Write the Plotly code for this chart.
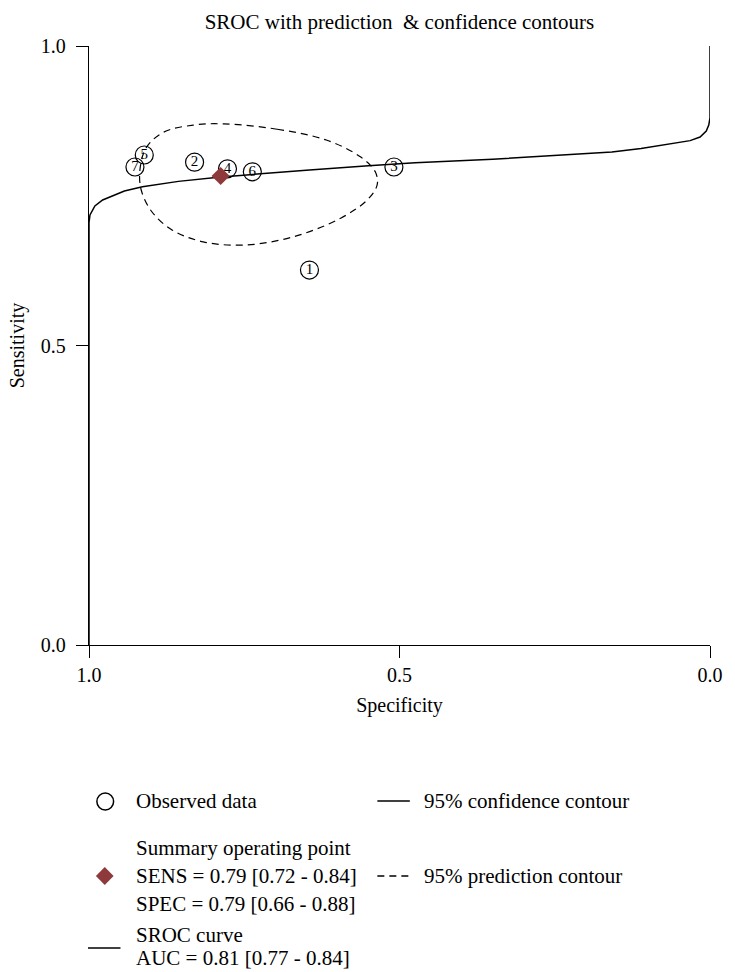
import plotly.graph_objects as go

# ---------------- data ----------------
study_ids = ["1", "2", "3", "4", "5", "6", "7"]
study_spec = [0.645, 0.830, 0.509, 0.777, 0.911, 0.737, 0.926]
study_sens = [0.626, 0.806, 0.798, 0.795, 0.818, 0.790, 0.798]

summary_spec = [0.788]
summary_sens = [0.783]

sroc_spec = [1.0, 1.0, 0.9984, 0.9905, 0.978, 0.962, 0.943, 0.914, 0.856, 0.792,
             0.700, 0.645, 0.550, 0.475, 0.350, 0.250, 0.158, 0.111, 0.052,
             0.032, 0.016, 0.006, 0.002, 0.0, 0.0]
sroc_sens = [0.0, 0.705, 0.718, 0.733, 0.743, 0.750, 0.758, 0.765, 0.774, 0.781,
             0.789, 0.793, 0.800, 0.805, 0.811, 0.817, 0.823, 0.829, 0.838,
             0.842, 0.848, 0.858, 0.868, 0.880, 1.0]

pred_spec = [0.783, 0.697, 0.618, 0.563, 0.539, 0.536, 0.552, 0.594, 0.666, 0.745,
             0.816, 0.868, 0.900, 0.916, 0.918, 0.908, 0.880, 0.832, 0.783]
pred_sens = [0.870, 0.861, 0.843, 0.815, 0.790, 0.768, 0.743, 0.713, 0.683, 0.668,
             0.673, 0.694, 0.725, 0.760, 0.793, 0.830, 0.856, 0.868, 0.870]

x_ticks = [1.0, 0.5, 0.0]
x_ticktext = ["1.0", "0.5", "0.0"]
y_ticks = [0.0, 0.5, 1.0]
y_ticktext = ["0.0", "0.5", "1.0"]

title_text = "SROC with prediction  & confidence contours"
legend_obs = "Observed data"
legend_summary = ["Summary operating point", "SENS = 0.79 [0.72 - 0.84]", "SPEC = 0.79 [0.66 - 0.88]"]
legend_sroc = ["SROC curve", "AUC = 0.81 [0.77 - 0.84]"]
legend_conf = "95% confidence contour"
legend_pred = "95% prediction contour"

# ---------------- figure ----------------
FONT = "Liberation Serif"
DIAMOND = "#8E3A3D"
W, H = 735, 972
L, R, T, B = 89, 720, 46, 645
DASH = "7px,5px"

def px(x):
    return (x - L) / (R - L)

def py(y):
    return (B - y) / (B - T)

fig = go.Figure()

fig.add_trace(go.Scatter(x=sroc_spec, y=sroc_sens, mode="lines",
                         line=dict(color="black", width=1.5), hoverinfo="skip"))
fig.add_trace(go.Scatter(x=pred_spec, y=pred_sens, mode="lines",
                         line=dict(color="black", width=1.2, dash=DASH, shape="spline", smoothing=1.0),
                         hoverinfo="skip"))
fig.add_trace(go.Scatter(x=study_spec, y=study_sens, mode="markers+text", text=study_ids,
                         textposition="middle center",
                         textfont=dict(family=FONT, size=15, color="black"),
                         marker=dict(symbol="circle-open", size=18, color="black",
                                     line=dict(color="black", width=1.2))))
fig.add_trace(go.Scatter(x=summary_spec, y=summary_sens, mode="markers",
                         marker=dict(symbol="diamond", size=14, color=DIAMOND,
                                     line=dict(width=0))))

annotations = []
shapes = []

def text_at(x, y, s, size=21, anchor="left"):
    annotations.append(dict(xref="paper", yref="paper", x=px(x), y=py(y), text=s,
                            showarrow=False, xanchor=anchor, yanchor="middle",
                            font=dict(family=FONT, size=size, color="black")))

TX = 135      # left column text start
RL0, RL1 = 382, 415  # right column sample line
RTX = 427     # right column text start

# legend row 1
shapes.append(dict(type="circle", xref="paper", yref="paper",
                   x0=px(97), x1=px(114), y0=py(810), y1=py(793),
                   line=dict(color="black", width=1.5)))
text_at(TX, 801, legend_obs)
shapes.append(dict(type="line", xref="paper", yref="paper",
                   x0=px(RL0), x1=px(RL1), y0=py(801), y1=py(801),
                   line=dict(color="black", width=1.4)))
text_at(RTX, 801, legend_conf)

# legend row 2
shapes.append(dict(type="path", xref="paper", yref="paper",
                   path="M {a},{b} L {c},{d} L {e},{f} L {g},{h} Z".format(
                       a=px(96), b=py(876), c=px(105), d=py(867),
                       e=px(114), f=py(876), g=px(105), h=py(885)),
                   fillcolor=DIAMOND, line=dict(width=0)))
text_at(TX, 848, legend_summary[0])
text_at(TX, 876, legend_summary[1])
text_at(TX, 904, legend_summary[2])
shapes.append(dict(type="line", xref="paper", yref="paper",
                   x0=px(RL0), x1=px(RL1), y0=py(876), y1=py(876),
                   line=dict(color="black", width=1.4, dash="7px,5px")))
text_at(RTX, 876, legend_pred)

# legend row 3
shapes.append(dict(type="line", xref="paper", yref="paper",
                   x0=px(88), x1=px(121), y0=py(948), y1=py(948),
                   line=dict(color="black", width=1.4)))
text_at(TX, 935, legend_sroc[0])
text_at(TX, 958, legend_sroc[1])

fig.update_layout(
    width=W, height=H,
    margin=dict(l=L, r=W - R, t=T, b=H - B),
    paper_bgcolor="white", plot_bgcolor="white",
    showlegend=False,
    font=dict(family=FONT, size=20, color="black"),
    title=dict(text=title_text, x=0.5, xref="paper", y=1 - 22 / H, yref="container",
               xanchor="center", yanchor="middle",
               font=dict(family=FONT, size=21, color="black")),
    annotations=annotations,
    shapes=shapes,
)
fig.update_xaxes(range=[1.0, 0.0], tickvals=x_ticks, ticktext=x_ticktext,
                 ticks="outside", ticklen=12, tickwidth=1.4, tickcolor="black",
                 showline=True, linecolor="black", linewidth=1.4, mirror=False,
                 showgrid=False, zeroline=False,
                 tickfont=dict(family=FONT, size=20),
                 title=dict(text="Specificity", standoff=12, font=dict(family=FONT, size=20)))
fig.update_yaxes(range=[0.0, 1.0], tickvals=y_ticks, ticktext=y_ticktext,
                 ticks="outside", ticklen=12, tickwidth=1.4, tickcolor="black",
                 showline=True, linecolor="black", linewidth=1.4, mirror=False,
                 showgrid=False, zeroline=False, ticklabelstandoff=6,
                 tickfont=dict(family=FONT, size=20),
                 title=dict(text="Sensitivity", standoff=10, font=dict(family=FONT, size=20)))

fig.write_html("out.html",
               config={"displayModeBar": False},
               post_script="document.body.style.margin='0';document.body.style.overflow='hidden';")
